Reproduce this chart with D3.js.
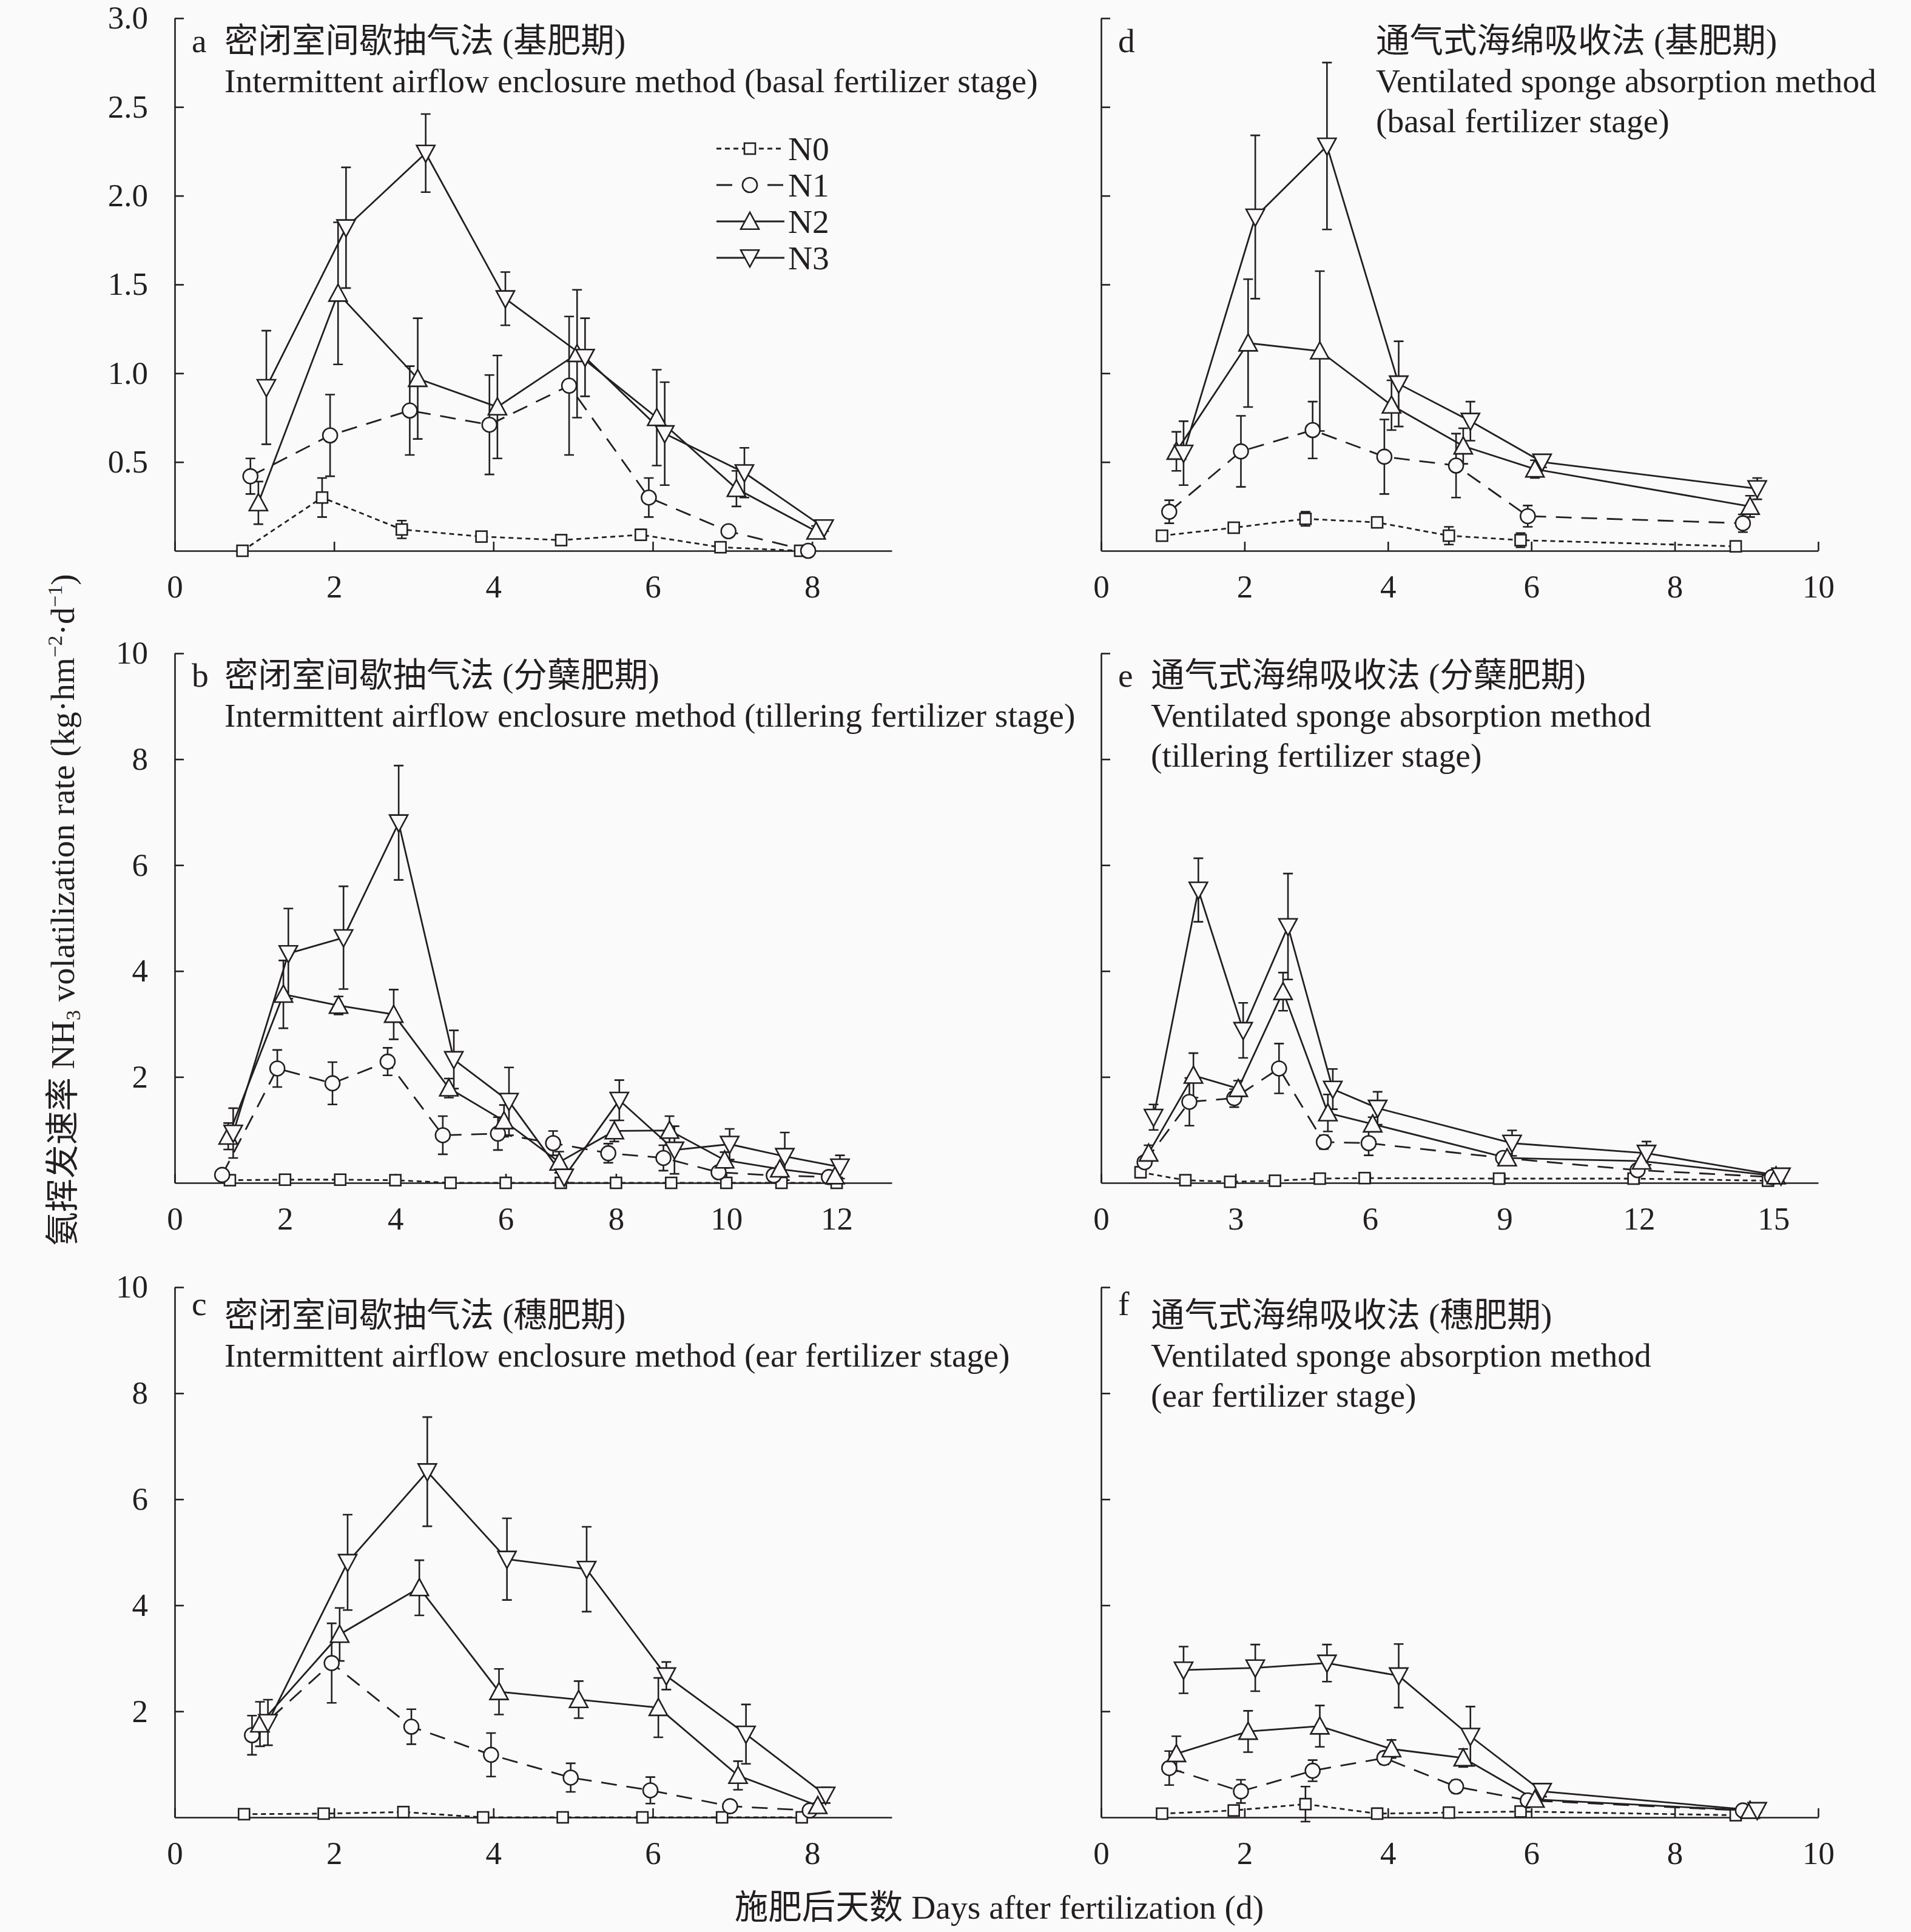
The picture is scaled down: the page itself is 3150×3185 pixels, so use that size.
<!DOCTYPE html>
<html>
<head>
<meta charset="utf-8">
<script src="https://cdn.jsdelivr.net/npm/d3@7"></script>
<style>
  html, body { margin: 0; padding: 0; background: #fafafa; }
  svg text { font-family: "Liberation Serif", "Noto Sans CJK SC", serif; fill: #231f20; }
</style>
</head>
<body>
<div id="chart"></div>
<script>
// ---- data ----
const seriesNames = ["N0", "N1", "N2", "N3"];

// a: intermittent airflow enclosure, basal
const daysA = [1, 2, 3, 4, 5, 6, 7, 8];
const aN0 = [0, 0.30, 0.12, 0.08, 0.06, 0.09, 0.02, 0];
const aN0err = [0, 0.11, 0.05, 0.02, 0.02, 0.03, 0.01, 0];
const aN1 = [0.42, 0.65, 0.79, 0.71, 0.93, 0.30, 0.11, 0.00];
const aN1err = [0.10, 0.23, 0.25, 0.28, 0.39, 0.11, 0.02, 0.01];
const aN2 = [0.27, 1.45, 0.97, 0.81, 1.11, 0.75, 0.35, 0.11];
const aN2err = [0.12, 0.40, 0.34, 0.29, 0.36, 0.27, 0.10, 0.03];
const aN3 = [0.92, 1.82, 2.24, 1.42, 1.09, 0.66, 0.44, 0.13];
const aN3err = [0.32, 0.34, 0.22, 0.15, 0.22, 0.29, 0.14, 0.02];

// d: ventilated sponge absorption, basal
const daysD = [1, 2, 3, 4, 5, 6, 9];
const dN0 = [0.085, 0.13, 0.18, 0.16, 0.085, 0.06, 0.025];
const dN0err = [0.02, 0.02, 0.04, 0.02, 0.05, 0.04, 0.01];
const dN1 = [0.22, 0.56, 0.68, 0.53, 0.48, 0.195, 0.155];
const dN1err = [0.065, 0.20, 0.16, 0.21, 0.18, 0.06, 0.05];
const dN2 = [0.56, 1.17, 1.125, 0.82, 0.59, 0.46, 0.25];
const dN2err = [0.11, 0.36, 0.45, 0.14, 0.10, 0.05, 0.06];
const dN3 = [0.55, 1.88, 2.28, 0.94, 0.73, 0.50, 0.35];
const dN3err = [0.18, 0.46, 0.47, 0.24, 0.11, 0.03, 0.06];

// b: intermittent airflow enclosure, tillering
const daysB = [1, 2, 3, 4, 5, 6, 7, 8, 9, 10, 11, 12];
const bN0 = [0.05, 0.06, 0.06, 0.05, 0, 0, 0, 0, 0, 0, 0, 0];
const bN0err = [0.03, 0.03, 0.03, 0.03, 0, 0, 0, 0, 0, 0, 0, 0];
const bN1 = [0.15, 2.16, 1.88, 2.29, 0.90, 0.93, 0.75, 0.56, 0.47, 0.20, 0.14, 0.11];
const bN1err = [0.05, 0.35, 0.40, 0.26, 0.36, 0.31, 0.23, 0.18, 0.24, 0.05, 0.04, 0.03];
const bN2 = [0.88, 3.56, 3.35, 3.18, 1.79, 1.17, 0.39, 0.98, 0.99, 0.43, 0.26, 0.13];
const bN2err = [0.25, 0.64, 0.17, 0.47, 0.18, 0.30, 0.20, 0.20, 0.27, 0.15, 0.05, 0.03];
const bN3 = [0.94, 4.33, 4.63, 6.80, 2.33, 1.54, 0.11, 1.56, 0.62, 0.73, 0.50, 0.30];
const bN3err = [0.47, 0.85, 0.97, 1.08, 0.55, 0.64, 0.10, 0.38, 0.45, 0.29, 0.45, 0.22];

// e: ventilated sponge absorption, tillering
const daysE = [1, 2, 3, 4, 5, 6, 9, 12, 15];
const eN0 = [0.20, 0.05, 0.02, 0.04, 0.08, 0.09, 0.08, 0.08, 0.04];
const eN0err = [0.10, 0.03, 0.03, 0.03, 0.03, 0.03, 0.03, 0.03, 0.02];
const eN1 = [0.39, 1.53, 1.60, 2.16, 0.77, 0.75, 0.47, 0.24, 0.11];
const eN1err = [0.10, 0.45, 0.17, 0.47, 0.13, 0.23, 0.10, 0.05, 0.03];
const eN2 = [0.56, 2.03, 1.78, 3.61, 1.32, 1.11, 0.47, 0.41, 0.13];
const eN2err = [0.15, 0.42, 0.15, 0.36, 0.35, 0.13, 0.08, 0.05, 0.03];
const eN3 = [1.24, 5.53, 2.88, 4.84, 1.77, 1.41, 0.75, 0.56, 0.13];
const eN3err = [0.24, 0.60, 0.52, 1.00, 0.38, 0.31, 0.24, 0.22, 0.03];

// c: intermittent airflow enclosure, ear
const daysC = [1, 2, 3, 4, 5, 6, 7, 8];
const cN0 = [0.06, 0.07, 0.10, 0, 0, 0, 0, 0];
const cN0err = [0.05, 0.05, 0.05, 0, 0, 0, 0, 0];
const cN1 = [1.55, 2.91, 1.71, 1.18, 0.75, 0.51, 0.21, 0.13];
const cN1err = [0.37, 0.75, 0.33, 0.41, 0.27, 0.25, 0.05, 0.03];
const cN2 = [1.76, 3.45, 4.33, 2.37, 2.22, 2.07, 0.79, 0.22];
const cN2err = [0.42, 0.50, 0.52, 0.43, 0.35, 0.56, 0.27, 0.05];
const cN3 = [1.79, 4.81, 6.52, 4.87, 4.68, 2.67, 1.57, 0.42];
const cN3err = [0.43, 0.90, 1.03, 0.77, 0.80, 0.26, 0.56, 0.15];

// f: ventilated sponge absorption, ear
const daysF = [1, 2, 3, 4, 5, 6, 9];
const fN0 = [0.07, 0.13, 0.25, 0.07, 0.09, 0.11, 0.04];
const fN0err = [0.03, 0.08, 0.33, 0.10, 0.05, 0.07, 0.02];
const fN1 = [0.93, 0.49, 0.88, 1.12, 0.58, 0.32, 0.13];
const fN1err = [0.32, 0.22, 0.20, 0.12, 0.12, 0.04, 0.03];
const fN2 = [1.20, 1.62, 1.72, 1.29, 1.12, 0.34, 0.13];
const fN2err = [0.33, 0.39, 0.39, 0.17, 0.17, 0.04, 0.03];
const fN3 = [2.78, 2.82, 2.91, 2.67, 1.53, 0.49, 0.13];
const fN3err = [0.44, 0.44, 0.35, 0.60, 0.56, 0.10, 0.03];

// tick values
const yTicksTop = [0.5, 1.0, 1.5, 2.0, 2.5, 3.0];
const yTicksLow = [2, 4, 6, 8, 10];
const xTicks9 = [0, 2, 4, 6, 8];
const xTicks10 = [0, 2, 4, 6, 8, 10];
const xTicks12 = [0, 2, 4, 6, 8, 10, 12];
const xTicks15 = [0, 3, 6, 9, 12, 15];

// ---- layout / style ----
const W = 3150, H = 3185;
const FS = 55.5;   // titles, legend, axis titles
const TFS = 53;    // tick labels
const LEFT_X = [288, 1470], RIGHT_X = [1815, 2997];
const ROW_Y = [[908, 30], [1950, 1077], [2996, 2122]];

const seriesStyle = [
  { dash: "8,6", marker: "square" },
  { dash: "26,16", marker: "circle" },
  { dash: null, marker: "up" },
  { dash: null, marker: "down" },
];

const panels = [
  { id: "a", xr: LEFT_X, yr: ROW_Y[0], xDomain: [0, 9], yDomain: [0, 3], xTicks: xTicks9, yTicks: yTicksTop, yLabels: true,
    yFmt: d3.format(".1f"), days: daysA, dodge: [-0.15, -0.05, 0.05, 0.15],
    vals: [aN0, aN1, aN2, aN3], errs: [aN0err, aN1err, aN2err, aN3err],
    titleX: 82, base: 56, step: 66, legend: true,
    lines: ["密闭室间歇抽气法 (基肥期)", "Intermittent airflow enclosure method (basal fertilizer stage)"] },
  { id: "d", xr: RIGHT_X, yr: ROW_Y[0], xDomain: [0, 10], yDomain: [0, 3], xTicks: xTicks10, yTicks: yTicksTop, yLabels: false,
    days: daysD, dodge: [-0.15, -0.05, 0.05, 0.15],
    vals: [dN0, dN1, dN2, dN3], errs: [dN0err, dN1err, dN2err, dN3err],
    titleX: 453, base: 56, step: 66,
    lines: ["通气式海绵吸收法 (基肥期)", "Ventilated sponge absorption method", "(basal fertilizer stage)"] },
  { id: "b", xr: LEFT_X, yr: ROW_Y[1], xDomain: [0, 13], yDomain: [0, 10], xTicks: xTicks12, yTicks: yTicksLow, yLabels: true,
    yFmt: d3.format("d"), days: daysB, dodge: [0, -0.14, -0.03, 0.06],
    vals: [bN0, bN1, bN2, bN3], errs: [bN0err, bN1err, bN2err, bN3err],
    titleX: 82, base: 55, step: 66,
    lines: ["密闭室间歇抽气法 (分蘖肥期)", "Intermittent airflow enclosure method (tillering fertilizer stage)"] },
  { id: "e", xr: RIGHT_X, yr: ROW_Y[1], xDomain: [0, 16], yDomain: [0, 10], xTicks: xTicks15, yTicks: yTicksLow, yLabels: false,
    days: daysE, dodge: [-0.12, -0.03, 0.06, 0.17],
    vals: [eN0, eN1, eN2, eN3], errs: [eN0err, eN1err, eN2err, eN3err],
    titleX: 82, base: 55, step: 66,
    lines: ["通气式海绵吸收法 (分蘖肥期)", "Ventilated sponge absorption method", "(tillering fertilizer stage)"] },
  { id: "c", xr: LEFT_X, yr: ROW_Y[2], xDomain: [0, 9], yDomain: [0, 10], xTicks: xTicks9, yTicks: yTicksLow, yLabels: true,
    yFmt: d3.format("d"), days: daysC, dodge: [-0.13, -0.03, 0.07, 0.17],
    vals: [cN0, cN1, cN2, cN3], errs: [cN0err, cN1err, cN2err, cN3err],
    titleX: 82, base: 65, step: 66, letterBase: 46,
    lines: ["密闭室间歇抽气法 (穗肥期)", "Intermittent airflow enclosure method (ear fertilizer stage)"] },
  { id: "f", xr: RIGHT_X, yr: ROW_Y[2], xDomain: [0, 10], yDomain: [0, 10], xTicks: xTicks10, yTicks: yTicksLow, yLabels: false,
    days: daysF, dodge: [-0.15, -0.05, 0.05, 0.15],
    vals: [fN0, fN1, fN2, fN3], errs: [fN0err, fN1err, fN2err, fN3err],
    titleX: 82, base: 65, step: 66, letterBase: 46,
    lines: ["通气式海绵吸收法 (穗肥期)", "Ventilated sponge absorption method", "(ear fertilizer stage)"] },
];

const svg = d3.select("#chart").append("svg")
  .attr("width", W).attr("height", H)
  .attr("viewBox", `0 0 ${W} ${H}`);

svg.append("rect").attr("width", W).attr("height", H).attr("fill", "#fafafa");

const BG = "#fafafa";
const INK = "#231f20";

function drawMarker(g, type, cx, cy) {
  if (type === "square") {
    g.append("rect").attr("x", cx - 9).attr("y", cy - 9).attr("width", 18).attr("height", 18)
      .attr("fill", BG).attr("stroke", INK).attr("stroke-width", 2.6);
  } else if (type === "circle") {
    g.append("circle").attr("cx", cx).attr("cy", cy).attr("r", 12)
      .attr("fill", BG).attr("stroke", INK).attr("stroke-width", 2.6);
  } else {
    const s = 15, dir = type === "up" ? 1 : -1;
    const pts = [[cx, cy - dir * s], [cx - s, cy + dir * s * 0.85], [cx + s, cy + dir * s * 0.85]];
    g.append("path").attr("d", d3.line()(pts) + "Z")
      .attr("fill", BG).attr("stroke", INK).attr("stroke-width", 2.6).attr("stroke-linejoin", "miter");
  }
}

panels.forEach((p) => {
  const x = d3.scaleLinear().domain(p.xDomain).range(p.xr);
  const y = d3.scaleLinear().domain(p.yDomain).range(p.yr);
  const g = svg.append("g").attr("class", `panel-${p.id}`);

  // y axis, ticks pointing inward
  const yAxis = d3.axisLeft(y).tickValues(p.yTicks).tickSizeInner(-15).tickSizeOuter(0).tickPadding(44)
    .tickFormat(p.yLabels ? p.yFmt : () => "");
  const ya = g.append("g").attr("transform", `translate(${p.xr[0]},0)`).call(yAxis);
  ya.select(".domain").attr("stroke", INK).attr("stroke-width", 2.6);
  ya.selectAll(".tick line").attr("stroke", INK).attr("stroke-width", 2.6);
  ya.selectAll(".tick text").attr("font-size", TFS).attr("fill", INK)
    .attr("font-family", "Liberation Serif, serif");

  // x axis
  const xAxis = d3.axisBottom(x).tickValues(p.xTicks).tickSizeInner(-15).tickSizeOuter(0).tickPadding(39);
  const xa = g.append("g").attr("transform", `translate(0,${p.yr[0]})`).call(xAxis);
  xa.select(".domain").attr("stroke", INK).attr("stroke-width", 2.6);
  xa.selectAll(".tick line").attr("stroke", INK).attr("stroke-width", 2.6);
  xa.selectAll(".tick text").attr("font-size", TFS).attr("fill", INK)
    .attr("font-family", "Liberation Serif, serif");

  // panel letter and titles
  const top = p.yr[1];
  g.append("text").attr("x", p.xr[0] + 28).attr("y", top + (p.letterBase || p.base))
    .attr("font-size", FS).text(p.id);
  const t = g.append("text").attr("font-size", FS);
  p.lines.forEach((ln, i) => {
    t.append("tspan").attr("x", p.xr[0] + p.titleX).attr("y", top + p.base + i * p.step).text(ln);
  });

  // series
  seriesNames.forEach((name, si) => {
    const st = seriesStyle[si];
    const pts = p.days.map((d, i) => ({ day: d + p.dodge[si], v: p.vals[si][i], e: p.errs[si][i] }));
    const sg = g.append("g").attr("class", `series-${name}`);

    // error bars
    pts.forEach((d) => {
      if (d.e <= 0) return;
      const cx = x(d.day), y1 = y(d.v + d.e), y2 = y(d.v - d.e);
      sg.append("path")
        .attr("d", `M${cx},${y1}V${y2}M${cx - 8},${y1}H${cx + 8}M${cx - 8},${y2}H${cx + 8}`)
        .attr("stroke", INK).attr("stroke-width", 2.6).attr("fill", "none");
    });

    sg.append("path").datum(pts)
      .attr("d", d3.line().x((d) => x(d.day)).y((d) => y(d.v)))
      .attr("fill", "none").attr("stroke", INK).attr("stroke-width", 2.8)
      .attr("stroke-dasharray", st.dash);
  });
  // markers on top
  seriesNames.forEach((name, si) => {
    const mg = g.append("g").attr("class", `markers-${name}`);
    p.days.forEach((d, i) => drawMarker(mg, seriesStyle[si].marker, x(d + p.dodge[si]), y(p.vals[si][i])));
  });

  // legend (panel a only)
  if (p.legend) {
    const lg = g.append("g").attr("class", "legend");
    seriesNames.forEach((name, si) => {
      const ly = 245 + si * 60;
      lg.append("line").attr("x1", 1181).attr("x2", 1293).attr("y1", ly).attr("y2", ly)
        .attr("stroke", INK).attr("stroke-width", 2.8).attr("stroke-dasharray", seriesStyle[si].dash);
      drawMarker(lg, seriesStyle[si].marker, 1236, ly);
      lg.append("text").attr("x", 1299).attr("y", ly).attr("dy", "0.35em").attr("font-size", FS).text(name);
    });
  }
});

// axis titles
const yTitle = svg.append("text").attr("font-size", FS).attr("text-anchor", "middle")
  .attr("transform", "translate(122,1500) rotate(-90)");
yTitle.append("tspan").text("氨挥发速率 NH");
yTitle.append("tspan").attr("font-size", FS * 0.62).attr("dy", 10).text("3");
yTitle.append("tspan").attr("dy", -10).text(" volatilization rate (kg·hm");
yTitle.append("tspan").attr("font-size", FS * 0.62).attr("dy", -20).text("−2");
yTitle.append("tspan").attr("dy", 20).text("·d");
yTitle.append("tspan").attr("font-size", FS * 0.62).attr("dy", -20).text("−1");
yTitle.append("tspan").attr("dy", 20).text(")");

svg.append("text").attr("x", 1647).attr("y", 3163).attr("text-anchor", "middle")
  .attr("font-size", FS).text("施肥后天数 Days after fertilization (d)");
</script>
</body>
</html>
